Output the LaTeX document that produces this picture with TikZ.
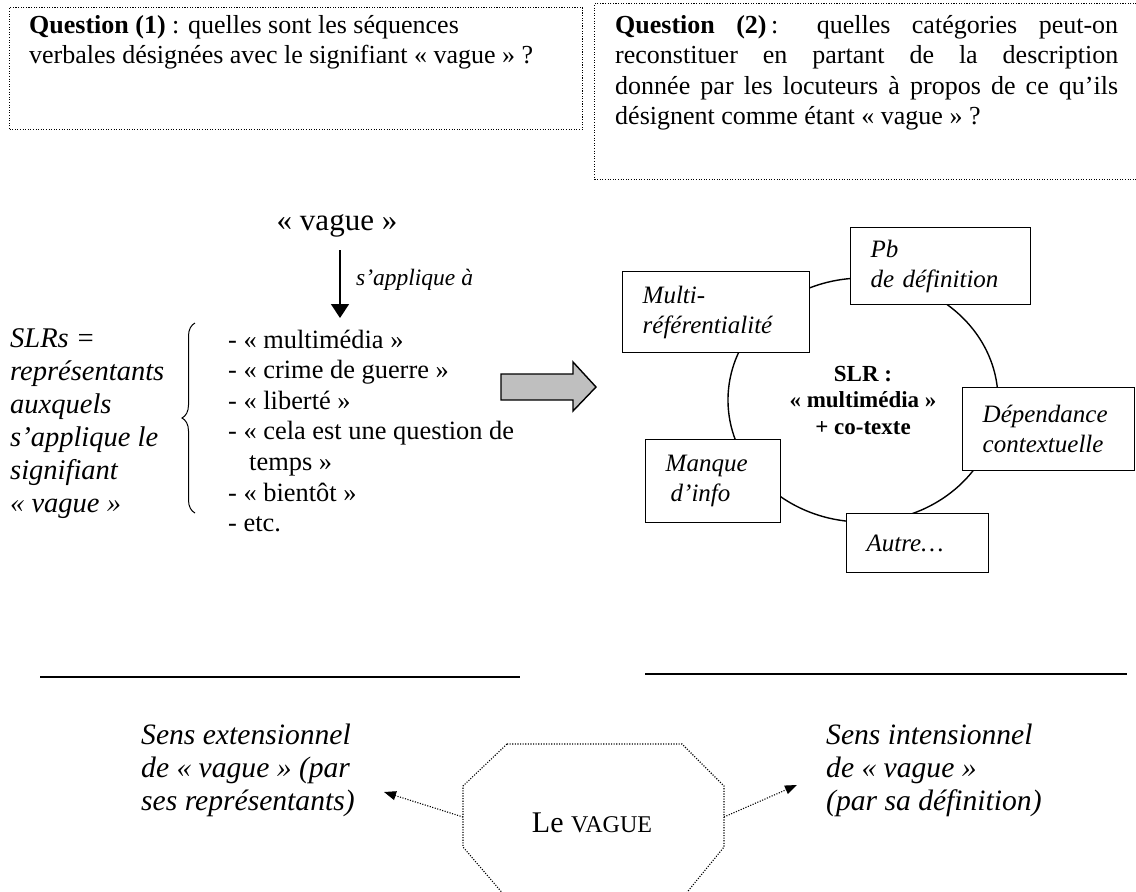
\documentclass[tikz,border=0pt]{standalone}
\usepackage{fontspec}
\setmainfont{Liberation Serif}
\usetikzlibrary{arrows.meta,decorations.pathreplacing,shapes.geometric}
\begin{document}
\begin{tikzpicture}[x=1pt,y=-1pt,
  qbox/.style={draw, line width=1.1pt, dash pattern=on 1.1pt off 1.5pt, inner sep=0pt, anchor=north west},
  txt/.style={inner sep=0pt, anchor=north west, align=left},
  catbox/.style={draw, fill=white, line width=1.4pt, inner xsep=10pt, inner ysep=0pt, anchor=north west, align=left,
    font=\fontsize{25}{30}\selectfont\itshape, execute at begin node={\leftskip=10pt\relax}},
  dotarrow/.style={line width=1.1pt, dash pattern=on 1.1pt off 1.5pt, -{Triangle[length=12pt,width=9pt,sep=0pt]}},
]
\useasboundingbox (0,0) rectangle (1136,892);

% ---- question boxes
\node[qbox, minimum width=573pt, minimum height=122pt] (q1) at (9,7) {};
\node[txt, font=\fontsize{26}{30}\selectfont] (q1t) at (29,15) {\textbf{Question (1)} : quelles sont les séquences\\verbales désignées avec le signifiant « vague » ?};

\node[qbox, minimum width=560pt, minimum height=176pt] (q2) at (594,3) {};
\node[txt, font=\fontsize{26}{30.5}\selectfont] (q2t) at (615,15) {\makebox[503pt][s]{\textbf{Question (2)}\,: quelles catégories peut-on}\\
\makebox[503pt][s]{reconstituer en partant de la description}\\
\makebox[503pt][s]{donnée par les locuteurs à propos de ce qu’ils}\\
désignent comme étant « vague » ?};

% ---- left part
\node[inner sep=0pt, font=\fontsize{31}{34}\selectfont] (vague) at (337,226) {« vague »};
\coordinate (vgA) at (340,250);
\coordinate (vgB) at (340,318);
\draw[line width=1.4pt, -{Triangle[length=14pt,width=18pt]}] (vgA) -- (vgB);
\node[txt, anchor=west, font=\fontsize{23.5}{26}\selectfont\itshape] (appl) at (356,280) {s’applique à};

\node[txt, font=\fontsize{28.5}{33}\selectfont\itshape] (slrs) at (10,328.5) {SLRs =\\représentants\\auxquels\\s’applique le\\signifiant\\« vague »};

\coordinate (brB) at (195,513);
\coordinate (brT) at (195,323);
\draw[line width=1pt, decorate, decoration={brace, amplitude=13pt}] (brB) -- (brT);

\node[txt, font=\fontsize{26.4}{30.6}\selectfont] (list) at (228,329.5) {- « multimédia »\\- « crime de guerre »\\- « liberté »\\- « cela est une question de\\\hspace*{21pt}temps »\\- « bientôt »\\- etc.};

% ---- gray arrow
\filldraw[fill=black!25, draw=black, line width=1.4pt] (501,374) -- (573,374) -- (573,362) -- (596,387) -- (573,411) -- (573,400) -- (501,400) -- cycle;

% ---- oval diagram
\node[ellipse, draw, line width=1.4pt, minimum width=270pt, minimum height=244pt, inner sep=0pt, align=center, font=\fontsize{23}{26.5}\selectfont\bfseries] (core) at (863,400) {SLR :\\« multimédia »\\+ co-texte};

\node[catbox, text width=160pt, minimum height=77pt] (pb) at (850,227) {Pb\\de définition};
\node[catbox, text width=167pt, minimum height=81pt] (multi) at (622,271) {Multi-\\référentialité};
\node[catbox, text width=152pt, minimum height=83pt] (dep) at (962,387) {Dépendance\\contextuelle};
\node[catbox, text width=115pt, minimum height=83pt] (manque) at (645,439) {Manque\\\hspace*{5pt}d’info};
\node[catbox, text width=122pt, minimum height=59pt] (autre) at (846,513) {Autre…};

% ---- separators
\draw[line width=2.2pt] (40,677) -- (520,677);
\draw[line width=2.2pt] (645,674) -- (1127,674);

% ---- bottom
\node[txt, font=\fontsize{29.6}{33}\selectfont\itshape] (ext) at (141,723.5) {Sens extensionnel\\de « vague » (par\\ses représentants)};
\node[txt, font=\fontsize{29.6}{33}\selectfont\itshape] (int) at (826,723.5) {Sens intensionnel\\de « vague »\\(par sa définition)};

\draw[line width=1.1pt, dash pattern=on 1.1pt off 1.5pt] (507,744) -- (682,744) -- (724,786) -- (724,847) -- (684,896) -- (505,896) -- (463,847) -- (463,786) -- cycle;
\node[inner sep=0pt, font=\fontsize{30}{32}\selectfont] (le) at (592,823) {Le {\fontsize{24}{26}\selectfont VAGUE}};
\coordinate (octL) at (463,817);
\coordinate (octR) at (724,817);
\coordinate (extTip) at (384,792);
\coordinate (intTip) at (797,785);
\draw[dotarrow] (octL) -- (extTip);
\draw[dotarrow] (octR) -- (intTip);
\end{tikzpicture}
\end{document}
